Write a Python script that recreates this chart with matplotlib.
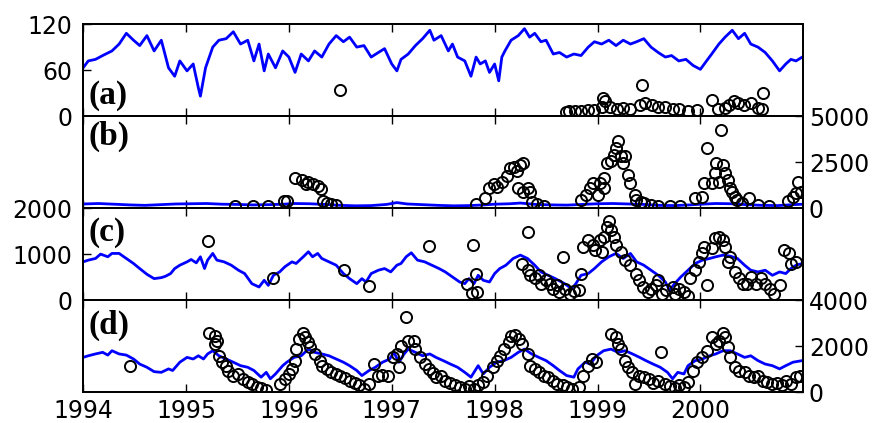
import numpy as np
import matplotlib
matplotlib.use("Agg")
from matplotlib import pyplot as plt

# panel (a): blue line (left axis, 0-120) and circles (hidden right axis)
a_line = [(1994.00, 63), (1994.05, 72), (1994.12, 74), (1994.19, 79), (1994.28, 85), (1994.35, 94),
          (1994.42, 108), (1994.49, 99), (1994.55, 92), (1994.62, 105), (1994.69, 85), (1994.76, 99),
          (1994.83, 63), (1994.89, 52), (1994.94, 72), (1995.01, 59), (1995.07, 68), (1995.12, 37),
          (1995.14, 26), (1995.19, 63), (1995.26, 90), (1995.32, 99), (1995.39, 101), (1995.46, 110),
          (1995.53, 94), (1995.60, 99), (1995.66, 72), (1995.71, 94), (1995.76, 59), (1995.80, 81),
          (1995.87, 63), (1995.94, 85), (1996.00, 77), (1996.06, 57), (1996.12, 81), (1996.19, 72),
          (1996.25, 85), (1996.32, 77), (1996.39, 94), (1996.46, 105), (1996.53, 97), (1996.59, 103),
          (1996.66, 90), (1996.73, 92), (1996.80, 77), (1996.87, 83), (1996.93, 88), (1997.00, 68),
          (1997.05, 59), (1997.09, 74), (1997.16, 81), (1997.23, 92), (1997.30, 101), (1997.37, 112),
          (1997.41, 99), (1997.48, 105), (1997.55, 85), (1997.59, 94), (1997.64, 77), (1997.71, 72),
          (1997.77, 52), (1997.82, 77), (1997.86, 68), (1997.91, 72), (1997.95, 57), (1998.00, 68),
          (1998.04, 46), (1998.07, 77), (1998.10, 85), (1998.16, 99), (1998.23, 105), (1998.29, 114),
          (1998.34, 103), (1998.39, 108), (1998.45, 97), (1998.50, 99), (1998.57, 81), (1998.63, 83),
          (1998.70, 77), (1998.77, 81), (1998.84, 79), (1998.91, 90), (1998.97, 97), (1999.04, 94),
          (1999.11, 99), (1999.18, 92), (1999.25, 99), (1999.32, 94), (1999.38, 97), (1999.45, 101),
          (1999.52, 90), (1999.59, 83), (1999.66, 77), (1999.72, 79), (1999.79, 72), (1999.86, 74),
          (1999.93, 66), (2000.00, 61), (2000.06, 72), (2000.11, 81), (2000.18, 94), (2000.24, 103),
          (2000.31, 112), (2000.37, 101), (2000.43, 108), (2000.49, 94), (2000.56, 90), (2000.63, 83),
          (2000.70, 72), (2000.77, 59), (2000.83, 68), (2000.88, 74), (2000.93, 72), (2000.99, 77)]
a_pts = [(1996.50, 1400), (1998.69, 200), (1998.72, 300), (1998.78, 300), (1998.84, 300),
         (1998.91, 350), (1998.97, 350), (1999.04, 500), (1999.05, 1000), (1999.07, 800),
         (1999.12, 500), (1999.19, 400), (1999.25, 450), (1999.32, 400), (1999.43, 1700),
         (1999.41, 600), (1999.46, 700), (1999.53, 600), (1999.59, 500), (1999.66, 500),
         (1999.73, 400), (1999.79, 400), (1999.88, 300), (1999.97, 350), (2000.11, 850),
         (2000.17, 400), (2000.24, 450), (2000.28, 600), (2000.33, 800), (2000.37, 700),
         (2000.42, 600), (2000.49, 700), (2000.56, 450), (2000.60, 400), (2000.61, 1250)]

# panel (b): blue line (hidden left axis) and circles (right axis, 0-5000)
b_line = [(1994.00, 90), (1994.15, 100), (1994.30, 85), (1994.45, 70), (1994.60, 60), (1994.75, 75),
          (1994.90, 90), (1995.05, 95), (1995.20, 100), (1995.35, 85), (1995.50, 80), (1995.65, 70),
          (1995.80, 75), (1995.95, 85), (1996.05, 100), (1996.20, 95), (1996.35, 80), (1996.50, 60),
          (1996.65, 50), (1996.80, 55), (1996.95, 80), (1997.05, 120), (1997.15, 90), (1997.30, 75),
          (1997.45, 60), (1997.60, 50), (1997.75, 55), (1997.90, 70), (1998.00, 85), (1998.15, 95),
          (1998.25, 110), (1998.40, 80), (1998.55, 70), (1998.70, 65), (1998.85, 80), (1999.00, 95),
          (1999.15, 100), (1999.30, 90), (1999.45, 80), (1999.60, 60), (1999.75, 55), (1999.90, 70),
          (2000.00, 85), (2000.15, 100), (2000.30, 95), (2000.45, 75), (2000.60, 60), (2000.75, 55),
          (2000.90, 75), (2001.00, 85)]
b_pts = [(1995.48, 110), (1995.65, 100), (1995.80, 100), (1995.95, 380), (1995.98, 380),
         (1996.06, 1660), (1996.13, 1530), (1996.17, 1300), (1996.19, 1400), (1996.23, 1300),
         (1996.28, 1220), (1996.31, 1040), (1996.33, 380), (1996.37, 260), (1996.41, 200),
         (1996.46, 160),
         (1997.82, 200), (1997.91, 530), (1997.95, 1110), (1997.99, 1300), (1998.02, 1170),
         (1998.07, 1440), (1998.12, 1720), (1998.15, 2170), (1998.19, 2260), (1998.22, 1990),
         (1998.25, 2350), (1998.28, 2450), (1998.23, 1080), (1998.28, 890), (1998.32, 1080),
         (1998.34, 890), (1998.36, 350), (1998.41, 200), (1998.48, 130),
         (1998.84, 440), (1998.89, 710), (1998.93, 1080), (1998.96, 1350), (1999.00, 710),
         (1999.02, 1350), (1999.06, 1620), (1999.06, 1080), (1999.09, 2450), (1999.13, 2540),
         (1999.16, 2900), (1999.18, 3270), (1999.20, 3630), (1999.23, 2810), (1999.27, 2810),
         (1999.25, 2450), (1999.30, 1810), (1999.32, 1350), (1999.36, 710), (1999.37, 440),
         (1999.42, 350), (1999.45, 260), (1999.52, 160), (1999.59, 130), (1999.70, 100),
         (1999.80, 100),
         (1999.95, 570), (2000.02, 620), (2000.04, 1350), (2000.06, 3270), (2000.11, 1350),
         (2000.14, 1900), (2000.15, 2450), (2000.18, 1440), (2000.20, 4270), (2000.22, 2350),
         (2000.24, 1900), (2000.27, 1530), (2000.29, 1080), (2000.31, 890), (2000.34, 620),
         (2000.36, 440), (2000.40, 260), (2000.47, 530), (2000.56, 160), (2000.67, 130),
         (2000.85, 380), (2000.90, 620), (2000.93, 800), (2000.95, 1440), (2000.98, 890)]

# panel (c): blue line (left axis, 0-2000) and circles (hidden right axis)
c_line = [(1994.00, 832), (1994.05, 869), (1994.12, 905), (1994.17, 1000), (1994.24, 942),
          (1994.28, 1015), (1994.35, 1015), (1994.42, 905), (1994.49, 796), (1994.55, 686),
          (1994.62, 562), (1994.69, 467), (1994.76, 489), (1994.80, 518), (1994.85, 577),
          (1994.89, 686), (1994.94, 759), (1995.01, 832), (1995.05, 883), (1995.10, 810),
          (1995.14, 942), (1995.18, 686), (1995.21, 869), (1995.26, 1015), (1995.30, 869),
          (1995.37, 832), (1995.44, 759), (1995.51, 650), (1995.57, 577), (1995.64, 358),
          (1995.71, 285), (1995.76, 431), (1995.80, 321), (1995.85, 540), (1995.91, 613),
          (1995.96, 723), (1996.03, 832), (1996.07, 796), (1996.14, 942), (1996.19, 1051),
          (1996.23, 942), (1996.28, 1015), (1996.32, 905), (1996.39, 832), (1996.46, 759),
          (1996.53, 577), (1996.59, 467), (1996.66, 358), (1996.71, 467), (1996.75, 394),
          (1996.80, 577), (1996.87, 650), (1996.93, 686), (1996.99, 613), (1997.05, 759),
          (1997.09, 796), (1997.14, 942), (1997.19, 1029), (1997.25, 869), (1997.32, 832),
          (1997.39, 759), (1997.46, 686), (1997.52, 613), (1997.59, 504), (1997.66, 394),
          (1997.71, 358), (1997.75, 467), (1997.80, 358), (1997.84, 540), (1997.89, 431),
          (1997.95, 394), (1998.00, 577), (1998.05, 686), (1998.11, 759), (1998.18, 905),
          (1998.25, 978), (1998.32, 905), (1998.39, 759), (1998.45, 613), (1998.52, 540),
          (1998.59, 467), (1998.68, 358), (1998.75, 248), (1998.79, 358), (1998.84, 540),
          (1998.91, 577), (1998.97, 686), (1999.04, 832), (1999.11, 942), (1999.18, 1015),
          (1999.25, 905), (1999.32, 1015), (1999.38, 832), (1999.45, 759), (1999.52, 650),
          (1999.59, 540), (1999.66, 394), (1999.70, 212), (1999.75, 358), (1999.81, 504),
          (1999.88, 650), (1999.95, 796), (2000.02, 869), (2000.09, 905), (2000.15, 942),
          (2000.22, 978), (2000.29, 956), (2000.36, 905), (2000.43, 759), (2000.49, 650),
          (2000.56, 613), (2000.63, 650), (2000.70, 540), (2000.77, 613), (2000.83, 577),
          (2000.88, 686), (2000.93, 759), (2000.99, 796)]
c_pts = [(1995.21, 2580), (1995.85, 980), (1996.54, 1300), (1996.78, 600), (1997.36, 2350),
         (1997.79, 2400), (1997.73, 720), (1997.82, 1150), (1997.78, 310), (1997.83, 350),
         (1998.32, 2980), (1998.27, 1590), (1998.32, 1300), (1998.34, 1080), (1998.39, 940),
         (1998.43, 1080), (1998.45, 720), (1998.50, 860), (1998.54, 720), (1998.57, 500),
         (1998.61, 640), (1998.63, 350), (1998.68, 500), (1998.73, 280), (1998.77, 400),
         (1998.82, 450), (1998.84, 1150), (1998.66, 1880), (1998.86, 2320), (1998.91, 2610),
         (1998.96, 2400), (1998.98, 2180), (1999.02, 2610), (1999.04, 2100), (1999.06, 2760),
         (1999.09, 3200), (1999.11, 3420), (1999.13, 3050), (1999.16, 2760), (1999.18, 2400),
         (1999.23, 2100), (1999.27, 1740), (1999.32, 1520), (1999.37, 1150), (1999.40, 860),
         (1999.44, 570), (1999.49, 350), (1999.52, 500), (1999.57, 640), (1999.59, 860),
         (1999.63, 280), (1999.67, 420), (1999.73, 570), (1999.75, 280), (1999.79, 500),
         (1999.84, 350), (1999.88, 200), (1999.90, 940), (1999.95, 1300), (1999.99, 1660),
         (2000.02, 2030), (2000.04, 2320), (2000.06, 640), (2000.11, 2250), (2000.14, 2690),
         (2000.18, 2760), (2000.22, 2610), (2000.24, 2320), (2000.27, 1660), (2000.29, 1880),
         (2000.34, 1230), (2000.38, 940), (2000.41, 720), (2000.45, 720), (2000.49, 1010),
         (2000.54, 720), (2000.59, 940), (2000.63, 720), (2000.68, 500), (2000.72, 280),
         (2000.77, 640), (2000.81, 2180), (2000.86, 2030), (2000.88, 1590), (2000.93, 1660)]

# panel (d): blue line (hidden left axis) and circles (right axis, 0-4000)
d_line = [(1994.00, 1510), (1994.05, 1580), (1994.12, 1660), (1994.19, 1730), (1994.24, 1610),
          (1994.28, 1800), (1994.35, 1660), (1994.42, 1610), (1994.49, 1440), (1994.55, 1220),
          (1994.62, 1080), (1994.69, 890), (1994.76, 860), (1994.83, 1010), (1994.87, 940),
          (1994.94, 1300), (1995.01, 1510), (1995.07, 1440), (1995.12, 1580), (1995.17, 1440),
          (1995.21, 1660), (1995.26, 1800), (1995.32, 1580), (1995.39, 1440), (1995.46, 1300),
          (1995.53, 1150), (1995.60, 1080), (1995.66, 940), (1995.73, 650), (1995.78, 860),
          (1995.82, 580), (1995.87, 790), (1995.94, 1150), (1995.98, 1300), (1996.05, 1510),
          (1996.12, 1580), (1996.19, 1870), (1996.25, 1730), (1996.32, 1660), (1996.39, 1580),
          (1996.46, 1440), (1996.53, 1300), (1996.59, 1150), (1996.66, 940), (1996.71, 720),
          (1996.78, 940), (1996.84, 1080), (1996.91, 1300), (1996.98, 1440), (1997.02, 1730),
          (1997.07, 1300), (1997.12, 1660), (1997.16, 1870), (1997.23, 1730), (1997.30, 1580),
          (1997.37, 1660), (1997.43, 1510), (1997.50, 1370), (1997.57, 1220), (1997.64, 1080),
          (1997.71, 860), (1997.77, 650), (1997.84, 1150), (1997.89, 790), (1997.95, 1080),
          (1998.02, 1300), (1998.09, 1370), (1998.16, 1510), (1998.23, 1730), (1998.29, 1870),
          (1998.36, 1660), (1998.43, 1510), (1998.50, 1370), (1998.57, 1150), (1998.63, 940),
          (1998.70, 720), (1998.77, 650), (1998.81, 1010), (1998.88, 1300), (1998.93, 1220),
          (1998.99, 1580), (1999.06, 1800), (1999.13, 1870), (1999.20, 1730), (1999.27, 1800),
          (1999.34, 1660), (1999.41, 1510), (1999.47, 1370), (1999.54, 1220), (1999.61, 1080),
          (1999.68, 860), (1999.73, 580), (1999.78, 860), (1999.84, 790), (1999.88, 1150),
          (1999.95, 1370), (2000.02, 1440), (2000.09, 1580), (2000.15, 1660), (2000.22, 1800),
          (2000.29, 1800), (2000.36, 1660), (2000.43, 1510), (2000.49, 1580), (2000.56, 1370),
          (2000.63, 1220), (2000.70, 1150), (2000.77, 1010), (2000.83, 1150), (2000.90, 1300),
          (2000.99, 1370)]
d_pts = [(1994.46, 1120), (1995.22, 2560), (1995.28, 2450), (1995.30, 2230), (1995.28, 2090),
         (1995.32, 1580), (1995.35, 1300), (1995.39, 1150), (1995.41, 940), (1995.46, 720),
         (1995.51, 790), (1995.55, 580), (1995.60, 460), (1995.64, 360), (1995.69, 220),
         (1995.73, 170), (1995.78, 100), (1995.91, 360), (1995.96, 580), (1996.00, 790),
         (1996.03, 1010), (1996.06, 1370), (1996.07, 1870), (1996.10, 2300), (1996.14, 2590),
         (1996.16, 2380), (1996.19, 2160), (1996.21, 1940), (1996.25, 1660), (1996.30, 1370),
         (1996.32, 1150), (1996.37, 1010), (1996.41, 890), (1996.46, 790), (1996.50, 720),
         (1996.55, 600), (1996.59, 500), (1996.64, 400), (1996.68, 290), (1996.73, 140),
         (1996.78, 360), (1996.83, 1220), (1996.87, 720), (1996.91, 750), (1996.96, 720),
         (1997.01, 1510), (1997.05, 1660), (1997.09, 2020), (1997.07, 1080), (1997.14, 3280),
         (1997.16, 2230), (1997.22, 2230), (1997.23, 1870), (1997.27, 1510), (1997.32, 1220),
         (1997.36, 1010), (1997.40, 840), (1997.43, 650), (1997.48, 720), (1997.52, 500),
         (1997.57, 400), (1997.61, 290), (1997.66, 220), (1997.71, 140), (1997.75, 260),
         (1997.80, 140), (1997.84, 290), (1997.89, 430), (1997.93, 720), (1997.98, 1080),
         (1998.02, 1370), (1998.05, 1580), (1998.09, 1870), (1998.14, 2160), (1998.16, 2450),
         (1998.20, 2480), (1998.24, 2300), (1998.27, 2090), (1998.32, 1660), (1998.34, 1120),
         (1998.39, 1010), (1998.43, 860), (1998.48, 720), (1998.52, 650), (1998.57, 500),
         (1998.61, 360), (1998.66, 290), (1998.70, 220), (1998.75, 140), (1998.82, 220),
         (1998.86, 720), (1998.91, 1150), (1998.95, 1440), (1998.99, 1300), (1999.13, 2520),
         (1999.18, 2380), (1999.20, 2090), (1999.23, 1870), (1999.27, 1370), (1999.30, 1080),
         (1999.34, 860), (1999.36, 360), (1999.40, 720), (1999.45, 650), (1999.50, 580),
         (1999.54, 400), (1999.59, 500), (1999.62, 1760), (1999.66, 360), (1999.70, 260),
         (1999.75, 170), (1999.79, 320), (1999.84, 220), (1999.88, 430), (1999.93, 940),
         (1999.97, 1300), (2000.02, 1510), (2000.06, 1800), (2000.11, 2380), (2000.15, 2090),
         (2000.18, 2230), (2000.22, 2590), (2000.24, 2380), (2000.27, 1940), (2000.29, 1510),
         (2000.34, 1080), (2000.38, 940), (2000.43, 860), (2000.47, 720), (2000.52, 650),
         (2000.56, 690), (2000.61, 500), (2000.65, 460), (2000.70, 360), (2000.74, 400),
         (2000.79, 290), (2000.83, 500), (2000.88, 360), (2000.93, 650), (2000.97, 720)]

years = list(range(1994, 2001))

# (label, line, circles, left ylim, right ylim, left ticks shown, right ticks shown, label y)
panels = [
    ("(a)", a_line, a_pts, 120, 5000, [0, 60, 120], None, 0.22),
    ("(b)", b_line, b_pts, 2000, 5000, None, [0, 2500, 5000], 0.78),
    ("(c)", c_line, c_pts, 2000, 4000, [0, 1000, 2000], None, 0.73),
    ("(d)", d_line, d_pts, 4000, 4000, None, [0, 2000, 4000], 0.72),
]

fig = plt.figure(figsize=(8.75, 4.23), dpi=100)
gs = fig.add_gridspec(4, 1, left=0.095, right=0.918, top=0.943, bottom=0.073, hspace=0)

for i, (lab, line, pts, ltop, rtop, lticks, rticks, ly) in enumerate(panels):
    ax = fig.add_subplot(gs[i])
    lx, lv = np.array(line).T
    ax.plot(lx, lv, color="#0000ff", lw=2.0)
    ax.set_xlim(1994, 2001)
    ax.set_ylim(0, ltop)
    ax.set_xticks(years)
    ax.tick_params(axis="x", direction="in", top=True, length=6, width=1,
                   labelbottom=(i == 3), labelsize=17, pad=5)
    if lticks is not None:
        ax.set_yticks(lticks)
        ax.tick_params(axis="y", direction="in", left=True, right=True, length=6, width=1,
                       labelsize=17, pad=8)
    else:
        ax.set_yticks([])

    ax2 = ax.twinx()
    px, pv = np.array(pts).T
    ax2.plot(px, pv, "o", mfc="none", mec="black", mew=1.4, ms=8)
    ax2.set_ylim(0, rtop)
    ax2.set_xlim(1994, 2001)
    if rticks is not None:
        ax2.set_yticks(rticks)
        ax2.tick_params(axis="y", direction="in", length=6, width=1, labelsize=17, pad=4)
    else:
        ax2.set_yticks([])

    for a in (ax, ax2):
        for s in a.spines.values():
            s.set_linewidth(1.3)

    ax2.text(0.008, ly, lab, transform=ax.transAxes, ha="left", va="center",
             fontsize=24, fontweight="bold", family="Liberation Serif")

fig.savefig("out.png", dpi=100)
